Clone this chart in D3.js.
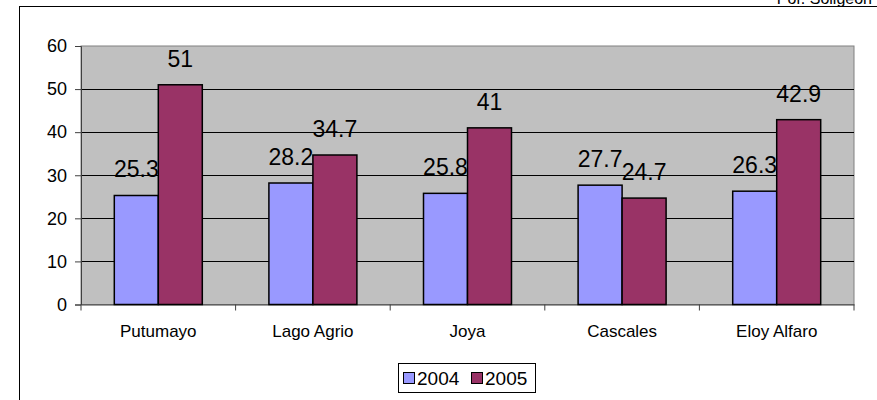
<!DOCTYPE html>
<html>
<head>
<meta charset="utf-8">
<script src="https://cdn.jsdelivr.net/npm/d3@7"></script>
<style>
  body { margin: 0; background: #fff; }
  text { font-family: "Liberation Sans", Arial, sans-serif; }
</style>
</head>
<body>
<div class="chart"></div>
<script>
const categories = ['Putumayo', 'Lago Agrio', 'Joya', 'Cascales', 'Eloy Alfaro'];
const years = ['2004', '2005'];
const values2004 = [25.3, 28.2, 25.8, 27.7, 26.3];
const values2005 = [51, 34.7, 41, 24.7, 42.9];
const yTicks = [0, 10, 20, 30, 40, 50, 60];
const colors = ['#9999ff', '#993366'];

const width = 877;
const height = 400;
const plot = { left: 81, right: 854, top: 46, bottom: 304.5 };

const svg = d3.select('.chart').append('svg')
  .attr('width', width)
  .attr('height', height)

// outer frame (cut off on right/bottom)
svg.append('rect')
  .attr('x', 19.5).attr('y', 6.5)
  .attr('width', 900).attr('height', 500)
  .attr('fill', 'none').attr('stroke', '#000').attr('stroke-width', 1)

svg.append('text')
  .attr('x', 872).attr('y', 4)
  .attr('text-anchor', 'end')
  .style('font-size', '16px')
  .text('Por. Soligeon')

const x0 = d3.scaleBand().domain(categories).range([plot.left, plot.right]);
const x1 = d3.scaleBand().domain(years).range([0, x0.bandwidth()]).paddingInner(0).paddingOuter(0.757);
const y = d3.scaleLinear().domain([0, 60]).range([plot.bottom, plot.top]);

svg.append('rect')
  .attr('x', plot.left).attr('y', plot.top)
  .attr('width', plot.right - plot.left).attr('height', plot.bottom - plot.top)
  .attr('fill', '#c0c0c0').attr('stroke', '#808080').attr('stroke-width', 1)

svg.append('g')
  .selectAll('line')
  .data(yTicks.filter(d => d > 0 && d < 60))
  .enter()
  .append('line')
  .attr('x1', plot.left).attr('x2', plot.right)
  .attr('y1', d => Math.round(y(d)) + 0.5).attr('y2', d => Math.round(y(d)) + 0.5)
  .attr('stroke', '#000').attr('stroke-width', 1)

// y axis
const yAxis = svg.append('g')
  .attr('transform', `translate(${plot.left},0)`)
  .call(d3.axisLeft(y).tickValues(yTicks).tickSize(6).tickPadding(8))
yAxis.select('.domain').attr('stroke', '#404040')
yAxis.selectAll('.tick line').attr('stroke', '#404040')
yAxis.selectAll('text').style('font-size', '18px').attr('fill', '#000')

// x axis
const xAxis = svg.append('g')
  .attr('transform', `translate(0,${plot.bottom})`)
  .call(d3.axisBottom(x0).tickSize(0).tickPadding(20))
xAxis.select('.domain').attr('stroke', '#404040')
xAxis.selectAll('text').style('font-size', '17px').attr('fill', '#000')
xAxis.selectAll('.sep')
  .data(d3.range(categories.length + 1))
  .enter()
  .append('line')
  .attr('x1', i => plot.left + i * x0.step()).attr('x2', i => plot.left + i * x0.step())
  .attr('y1', 0).attr('y2', 6)
  .attr('stroke', '#404040')

const series = [values2004, values2005];
years.forEach((yr, s) => {
  const g = svg.append('g');
  g.selectAll('rect')
    .data(categories.map((c, i) => ({ c, v: series[s][i] })))
    .enter()
    .append('rect')
    .attr('x', d => x0(d.c) + x1(yr))
    .attr('y', d => y(d.v))
    .attr('width', x1.bandwidth())
    .attr('height', d => y(0) - y(d.v))
    .attr('fill', colors[s])
    .attr('stroke', '#000')
    .attr('stroke-width', 1.5)
  g.selectAll('text')
    .data(categories.map((c, i) => ({ c, v: series[s][i] })))
    .enter()
    .append('text')
    .attr('x', d => x0(d.c) + x1(yr) + x1.bandwidth() / 2)
    .attr('y', d => y(d.v) - 18)
    .attr('text-anchor', 'middle')
    .style('font-size', '23px')
    .text(d => d.v)
})

// legend
const legend = svg.append('g').attr('transform', 'translate(398,363)');
legend.append('rect')
  .attr('x', 0.5).attr('y', 0.5).attr('width', 137).attr('height', 29)
  .attr('fill', '#fff').attr('stroke', '#000')
const items = legend.selectAll('.item')
  .data(years)
  .enter()
  .append('g')
  .attr('transform', (d, i) => `translate(${5 + i * 68},0)`)
items.append('rect')
  .attr('x', 0.5).attr('y', 9.5).attr('width', 11).attr('height', 11)
  .attr('fill', (d, i) => colors[i]).attr('stroke', '#000')
items.append('text')
  .attr('x', 14).attr('y', 22)
  .style('font-size', '19px')
  .text(d => d)
</script>
</body>
</html>
